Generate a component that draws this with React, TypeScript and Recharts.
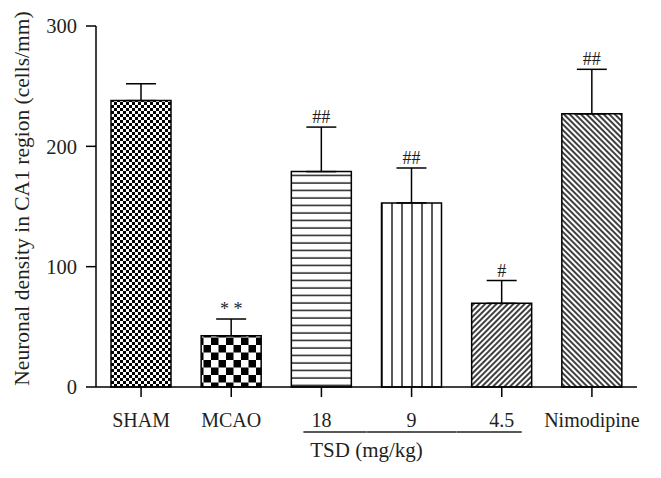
import { BarChart, Bar, XAxis, YAxis, Cell, ErrorBar, LabelList } from "recharts";

const groups = ["SHAM", "MCAO", "18", "9", "4.5", "Nimodipine"];
const density = [238, 42.5, 179, 153, 69.5, 227];
const sem = [14, 14, 37, 29, 19, 37];
const marks = ["", "* *", "##", "##", "#", "##"];
const yTicks = [0, 100, 200, 300];
const fills = ["chkFine", "chkCoarse", "hLines", "vLines", "diagFwd", "diagBack"];

const data = groups.map((g, i) => ({
  name: g,
  density: density[i],
  err: [0, sem[i]],
}));

const INK = "#231f20";
const FONT = "'Liberation Serif', 'DejaVu Serif', serif";

// eslint-disable-next-line @typescript-eslint/no-explicit-any
function XTick(props: any) {
  const { x, y, payload } = props;
  const v = payload.value as string;
  // the dose bracket sits under the three TSD groups
  let bracket: [number, number] | null = null;
  if (v === "18") bracket = [x - 18, x + 45];
  if (v === "9") bracket = [x - 45, x + 45];
  if (v === "4.5") bracket = [x - 45, x + 20];
  return (
    <g>
      <text x={x} y={y + 30} textAnchor="middle" fill={INK} fontSize={20} fontFamily={FONT}>
        {v}
      </text>
      {bracket && (
        <line x1={bracket[0]} x2={bracket[1]} y1={y + 35} y2={y + 35} stroke={INK} strokeWidth={1.5} />
      )}
      {v === "9" && (
        <text x={x - 45} y={y + 60} textAnchor="middle" fill={INK} fontSize={21} fontFamily={FONT}>
          TSD (mg/kg)
        </text>
      )}
    </g>
  );
}

// eslint-disable-next-line @typescript-eslint/no-explicit-any
function MarkLabel(props: any) {
  const { x, y, width, height, index } = props;
  const v = density[index];
  const top = y - (sem[index] * height) / v;
  return (
    <text x={x + width / 2} y={top - 4} textAnchor="middle" fill={INK} fontSize={18} fontFamily={FONT}>
      {marks[index]}
    </text>
  );
}

// eslint-disable-next-line @typescript-eslint/no-explicit-any
function YLabel(props: any) {
  const { viewBox } = props;
  const cx = viewBox.x - 14;
  const cy = viewBox.y + viewBox.height / 2 - 8;
  return (
    <text
      x={cx}
      y={cy}
      transform={`rotate(-90 ${cx} ${cy})`}
      textAnchor="middle"
      dominantBaseline="central"
      fill={INK}
      fontSize={21.5}
      fontFamily={FONT}
    >
      Neuronal density in CA1 region (cells/mm)
    </text>
  );
}

export default function App() {
  return (
    <div style={{ position: "absolute", left: 0, top: 0, width: 661, height: 478, background: "#fff" }}>
      <BarChart width={661} height={478} data={data} margin={{ top: 26, right: 24, left: 36, bottom: 61 }}>
        <defs>
          <pattern id="chkFine" width={6} height={6} patternUnits="userSpaceOnUse">
            <rect width={6} height={6} fill="#fff" />
            <rect width={3} height={3} fill="#000" />
            <rect x={3} y={3} width={3} height={3} fill="#000" />
          </pattern>
          <pattern id="chkCoarse" width={15} height={15} patternUnits="userSpaceOnUse" x={1}>
            <rect width={15} height={15} fill="#fff" />
            <rect x={7.5} width={7.5} height={7.5} fill="#000" />
            <rect y={7.5} width={7.5} height={7.5} fill="#000" />
          </pattern>
          <pattern id="hLines" width={10} height={7.5} patternUnits="userSpaceOnUse">
            <rect width={10} height={7.5} fill="#fff" />
            <line x1={0} x2={10} y1={3} y2={3} stroke="#000" strokeWidth={1.3} />
          </pattern>
          <pattern id="vLines" width={10} height={10} patternUnits="userSpaceOnUse">
            <rect width={10} height={10} fill="#fff" />
            <line x1={2} x2={2} y1={0} y2={10} stroke="#000" strokeWidth={1.3} />
          </pattern>
          <pattern id="diagFwd" width={4} height={4} patternUnits="userSpaceOnUse" patternTransform="rotate(45)">
            <rect width={4} height={4} fill="#fff" />
            <line x1={2} x2={2} y1={0} y2={4} stroke="#000" strokeWidth={1.5} />
          </pattern>
          <pattern id="diagBack" width={4} height={4} patternUnits="userSpaceOnUse" patternTransform="rotate(-45)">
            <rect width={4} height={4} fill="#fff" />
            <line x1={2} x2={2} y1={0} y2={4} stroke="#000" strokeWidth={1.5} />
          </pattern>
        </defs>
        <XAxis
          dataKey="name"
          height={30}
          tickSize={10}
          tickMargin={0}
          axisLine={{ stroke: "#000", strokeWidth: 1.5 }}
          tickLine={{ stroke: "#000", strokeWidth: 1.5 }}
          tick={(p) => <XTick {...p} />}
          interval={0}
        />
        <YAxis
          width={60}
          domain={[0, 300]}
          ticks={yTicks}
          tickSize={10}
          tickMargin={9}
          axisLine={{ stroke: "#000", strokeWidth: 1.5 }}
          tickLine={{ stroke: "#000", strokeWidth: 1.5 }}
          tick={{ fill: INK, fontSize: 20.5, fontFamily: FONT }}
          label={<YLabel />}
        />
        <Bar dataKey="density" barSize={60} stroke="#000" strokeWidth={1.5} isAnimationActive={false}>
          {data.map((_, i) => (
            <Cell key={i} fill={`url(#${fills[i]})`} />
          ))}
          <ErrorBar dataKey="err" width={15} stroke="#000" strokeWidth={1.5} direction="y" />
          <LabelList dataKey="density" content={<MarkLabel />} />
        </Bar>
      </BarChart>
    </div>
  );
}
